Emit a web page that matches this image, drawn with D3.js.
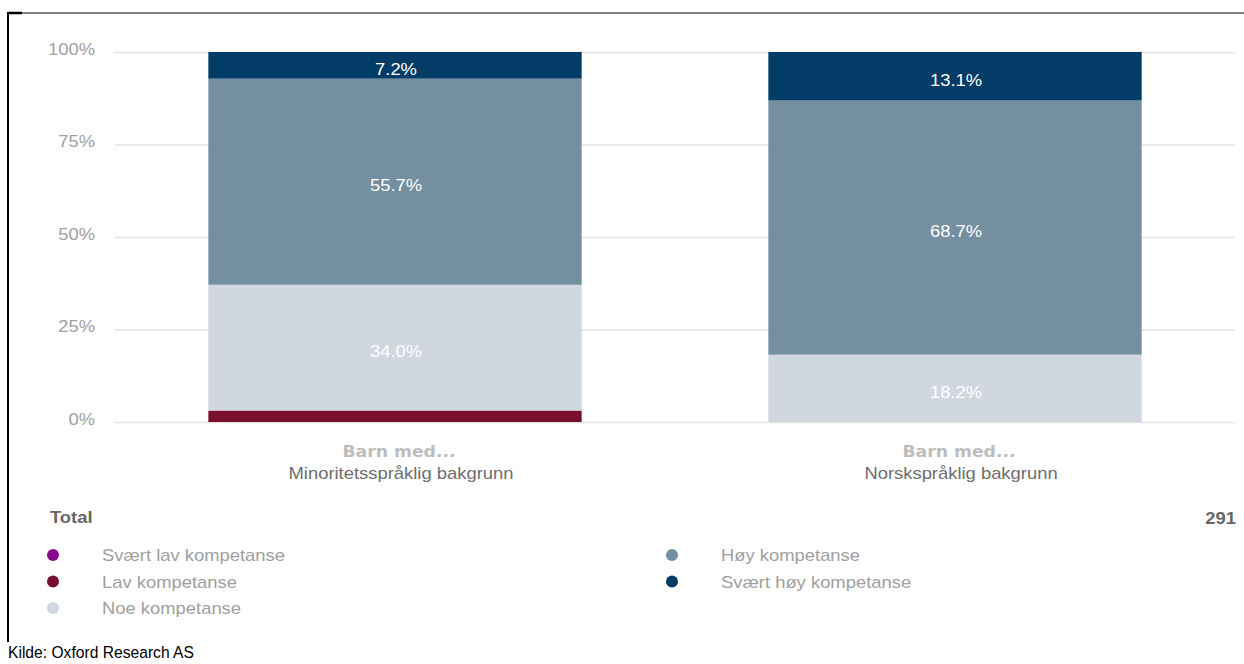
<!DOCTYPE html>
<html>
<head>
<meta charset="utf-8">
<script src="https://cdn.jsdelivr.net/npm/d3@7"></script>
<style>
  body { margin: 0; background: #fff; }
  svg { display: block; font-family: "Liberation Sans", Arial, sans-serif; }
</style>
</head>
<body>
<div id="myChart"></div>
<script>
// data
const categories = ["Minoritetsspråklig bakgrunn", "Norskspråklig bakgrunn"];
const seriesNames = ["Svært lav kompetanse", "Lav kompetanse", "Noe kompetanse", "Høy kompetanse", "Svært høy kompetanse"];
const svaertLav = [0, 0];
const lav = [3.1, 0];
const noe = [34.0, 18.2];
const hoy = [55.7, 68.7];
const svaertHoy = [7.2, 13.1];
const yTicks = [0, 25, 50, 75, 100];
const totalN = "291";

const W = 1244, H = 664;
const SX = 1.15; // the source picture is a bit stretched sideways

const color = d3.scaleOrdinal()
  .domain(seriesNames)
  .range(["#870c8b", "#7a1030", "#d0d7df", "#738fa0", "#033c66"]);

const svg = d3.select("#myChart").append("svg")
  .attr("width", W)
  .attr("height", H);

// put text at (x,y) and stretch it horizontally
function place(sel, x, y, sx) {
  sel.attr("x", 0).attr("y", 0)
    .attr("transform", "translate(" + x + "," + y + ") scale(" + (sx || SX) + ",1)");
}

const x = d3.scaleBand()
  .domain(categories)
  .range([115, 1235])
  .paddingInner(1 / 3)
  .paddingOuter(1 / 6);

const y = d3.scaleLinear().domain([0, 100]).range([422, 52]);

// grid + y labels
const yAxis = svg.append("g")
  .attr("transform", "translate(115,0)")
  .call(d3.axisLeft(y).tickValues(yTicks).tickSize(-1120).tickPadding(20).tickFormat(d => d + "%"));
yAxis.select(".domain").remove();
yAxis.selectAll(".tick line").attr("stroke", "#e2e2e2").attr("stroke-width", 1.5);
yAxis.selectAll(".tick text")
  .attr("dy", null)
  .style("font-size", "16px")
  .style("font-family", "Liberation Sans, Arial, sans-serif")
  .attr("fill", "#a0a0a0")
  .each(function () { place(d3.select(this), -20, 2); });

// stacked bars
const rows = categories.map((c, i) => ({
  cat: c,
  "Svært lav kompetanse": svaertLav[i],
  "Lav kompetanse": lav[i],
  "Noe kompetanse": noe[i],
  "Høy kompetanse": hoy[i],
  "Svært høy kompetanse": svaertHoy[i]
}));
const stacked = d3.stack().keys(seriesNames)(rows);

const layers = svg.selectAll(".layer")
  .data(stacked)
  .enter().append("g")
  .attr("class", "layer")
  .attr("fill", d => color(d.key));

layers.selectAll("rect")
  .data(d => d)
  .enter().append("rect")
  .attr("x", d => x(d.data.cat))
  .attr("width", x.bandwidth())
  .attr("y", d => y(d[1]))
  .attr("height", d => y(d[0]) - y(d[1]));

// value labels
layers.selectAll("text")
  .data(d => d.filter(s => s[1] - s[0] >= 5))
  .enter().append("text")
  .attr("text-anchor", "middle")
  .attr("dy", "0.35em")
  .attr("fill", "#fff")
  .style("font-size", "16px")
  .text(d => d3.format(".1f")(d[1] - d[0]) + "%")
  .each(function (d) {
    place(d3.select(this), x(d.data.cat) + x.bandwidth() / 2 + 1, (y(d[0]) + y(d[1])) / 2 + 4);
  });

// category labels
categories.forEach(c => {
  const cx = x(c) + x.bandwidth() / 2 + 4;
  svg.append("text")
    .attr("text-anchor", "middle")
    .style("font-family", "DejaVu Sans, Verdana, sans-serif")
    .style("font-weight", "bold")
    .style("font-size", "15px")
    .attr("fill", "#bdbdbd")
    .text("Barn med...")
    .call(place, cx, 457);
  svg.append("text")
    .attr("text-anchor", "middle")
    .style("font-size", "16px")
    .attr("fill", "#6e6e6e")
    .text(c)
    .call(place, cx + 2, 479);
});

// total row
svg.append("text")
  .style("font-size", "16px")
  .style("font-weight", "bold")
  .attr("fill", "#666")
  .text("Total")
  .call(place, 50, 523);
svg.append("text")
  .attr("text-anchor", "end")
  .style("font-size", "16px")
  .style("font-weight", "bold")
  .attr("fill", "#666")
  .text(totalN)
  .call(place, 1236, 524);

// legend
const legend = svg.selectAll(".legend")
  .data(seriesNames)
  .enter().append("g")
  .attr("class", "legend")
  .attr("transform", (d, i) => "translate(" + (i < 3 ? 53 : 672) + "," + (555 + (i % 3) * 26.5) + ")");
legend.append("circle").attr("r", 6).attr("fill", d => color(d));
legend.append("text")
  .style("font-size", "16px")
  .attr("fill", "#a0a0a0")
  .text(d => d)
  .call(place, 49, 6);

// frame
svg.append("line").attr("x1", 7).attr("x2", W).attr("y1", 13).attr("y2", 13)
  .attr("stroke", "#000").attr("stroke-width", 1.2);
svg.append("line").attr("x1", 7).attr("x2", 22).attr("y1", 13).attr("y2", 13)
  .attr("stroke", "#000").attr("stroke-width", 2.5);
svg.append("line").attr("x1", 8).attr("x2", 8).attr("y1", 12).attr("y2", 642)
  .attr("stroke", "#000").attr("stroke-width", 2);

// source (narrow in the original)
svg.append("text")
  .style("font-size", "17px")
  .attr("fill", "#000")
  .text("Kilde: Oxford Research AS")
  .call(place, 8, 658, 0.92);
</script>
</body>
</html>
